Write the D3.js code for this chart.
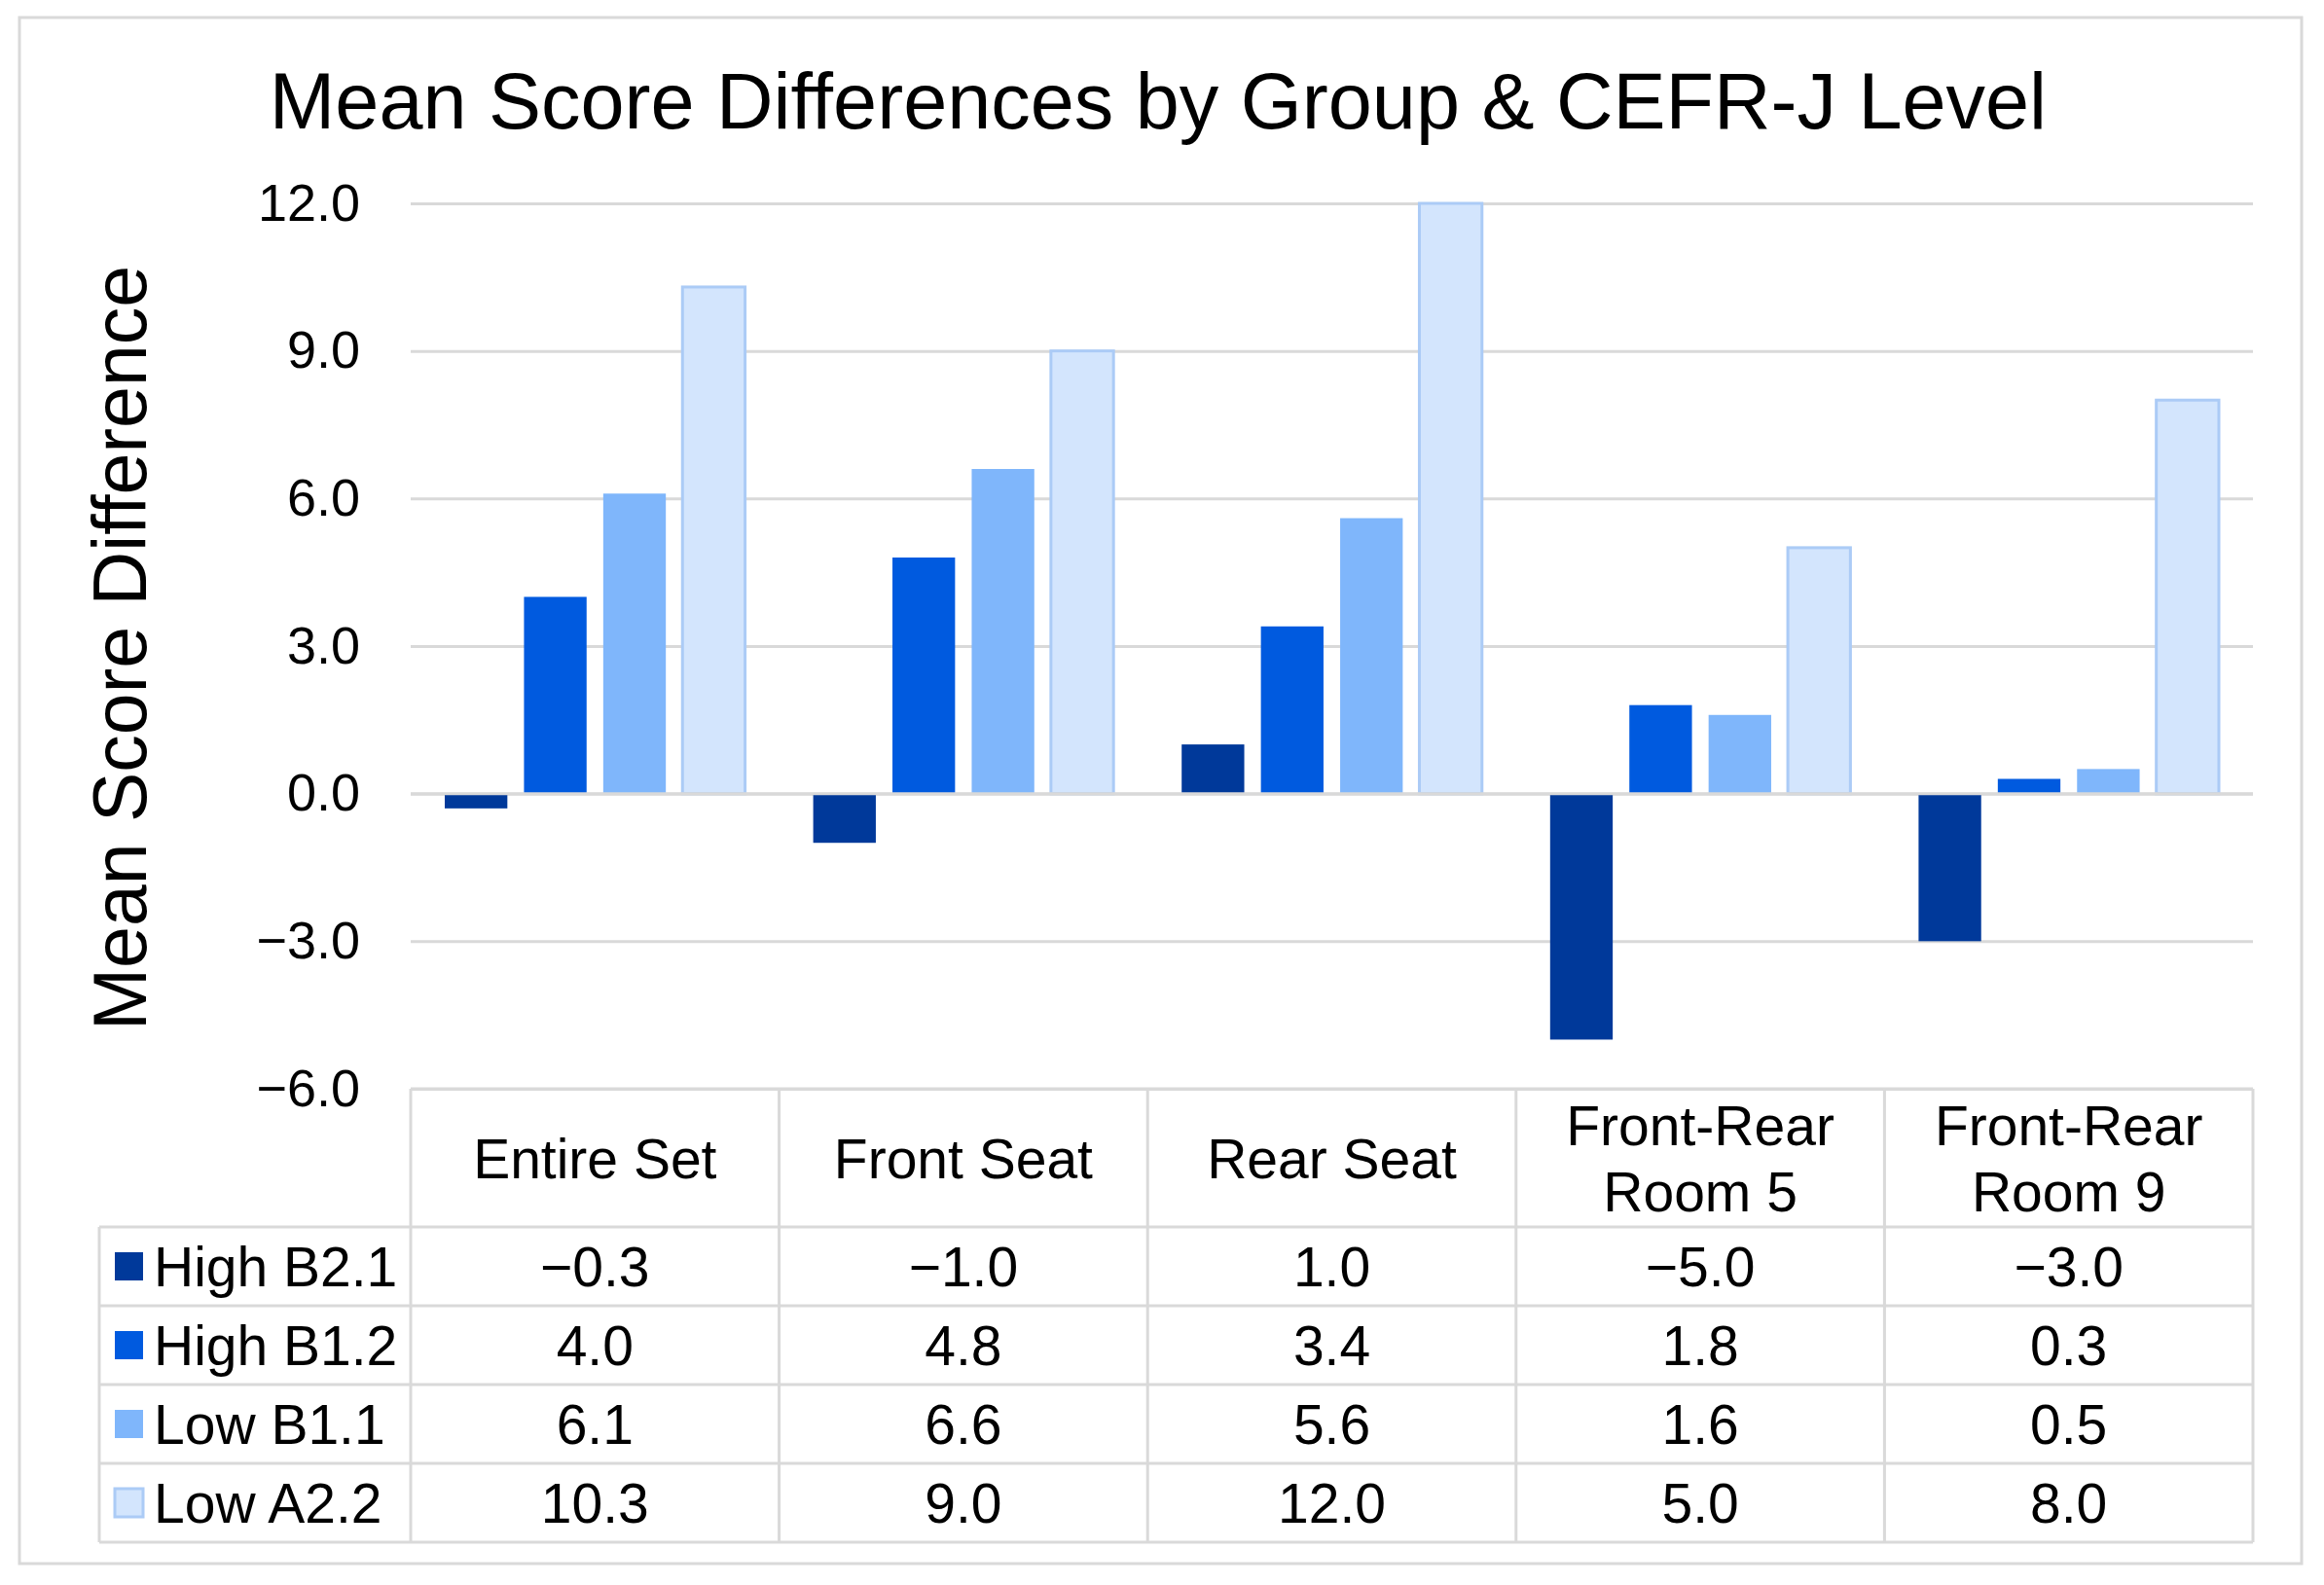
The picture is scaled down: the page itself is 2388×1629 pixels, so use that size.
<!DOCTYPE html>
<html>
<head>
<meta charset="utf-8">
<script src="https://cdn.jsdelivr.net/npm/d3@7"></script>
<style>
  html, body { margin: 0; padding: 0; background: #ffffff; }
  svg { display: block; }
  text { font-family: "Liberation Sans", Arial, Helvetica, sans-serif; fill: #000; }
</style>
</head>
<body>
<svg id="chart" width="2388" height="1629"></svg>
<script>
// ---------------- data ----------------
const categories = ["Entire Set", "Front Seat", "Rear Seat", "Front-Rear Room 5", "Front-Rear Room 9"];
const categoryLines = [["Entire Set"], ["Front Seat"], ["Rear Seat"], ["Front-Rear", "Room 5"], ["Front-Rear", "Room 9"]];
const seriesNames = ["High B2.1", "High B1.2", "Low B1.1", "Low A2.2"];
const highB21 = [-0.3, -1.0, 1.0, -5.0, -3.0];
const highB12 = [4.0, 4.8, 3.4, 1.8, 0.3];
const lowB11 = [6.1, 6.6, 5.6, 1.6, 0.5];
const lowA22 = [10.3, 9.0, 12.0, 5.0, 8.0];
const yTicks = [-6, -3, 0, 3, 6, 9, 12];
const titleText = "Mean Score Differences by Group & CEFR-J Level";
const yTitleText = "Mean Score Difference";

const seriesValues = [highB21, highB12, lowB11, lowA22];
const seriesFill = ["#00399A", "#005ADF", "#7FB6FB", "#D3E5FD"];
const seriesStroke = [null, null, null, "#ABCBF6"];

// ---------------- layout ----------------
const W = 2388, H = 1629;
const plotLeft = 422, plotRight = 2315, plotTop = 209, plotBottom = 1119;
const headerBottom = 1261, rowH = 81, legendLeft = 102;
const gridColor = "#d9d9d9";
const fontBody = 57;

const svg = d3.select("#chart");
svg.append("rect").attr("x", 0).attr("y", 0).attr("width", W).attr("height", H).attr("fill", "#fff");

// outer frame
svg.append("rect")
  .attr("x", 20).attr("y", 18).attr("width", 2345).attr("height", 1589)
  .attr("fill", "none").attr("stroke", gridColor).attr("stroke-width", 3);

// scales
const x0 = d3.scaleBand().domain(categories).range([plotLeft, plotRight]).padding(0);
const x1 = d3.scaleBand().domain(seriesNames).range([0, x0.bandwidth()]).paddingInner(0.21).paddingOuter(0.43);
const y = d3.scaleLinear().domain([-6, 12]).range([plotBottom, plotTop]);

// title
svg.append("text")
  .attr("x", 1190).attr("y", 132)
  .attr("text-anchor", "middle")
  .style("font-size", "81px")
  .text(titleText);

// y axis title
svg.append("text")
  .attr("transform", "translate(150,666) rotate(-90)")
  .attr("text-anchor", "middle")
  .style("font-size", "77px")
  .text(yTitleText);

// y axis with gridlines
const yAxis = d3.axisLeft(y)
  .tickValues(yTicks)
  .tickSize(-(plotRight - plotLeft))
  .tickPadding(52)
  .tickFormat(d3.format(".1f"));

const gAxis = svg.append("g")
  .attr("transform", `translate(${plotLeft},0)`)
  .call(yAxis);
gAxis.select(".domain").remove();
gAxis.selectAll(".tick line").attr("stroke", gridColor).attr("stroke-width", 3);
gAxis.selectAll(".tick text")
  .style("font-size", "54px")
  .style("font-family", "'Liberation Sans', Arial, sans-serif")
  .attr("fill", "#000");

// bars
const rows = seriesNames.map((s, i) => ({ name: s, values: seriesValues[i], fill: seriesFill[i], stroke: seriesStroke[i] }));
const barData = [];
rows.forEach(r => {
  categories.forEach((c, j) => barData.push({ series: r.name, cat: c, value: r.values[j], fill: r.fill, stroke: r.stroke }));
});

svg.append("g").selectAll("rect")
  .data(barData)
  .join("rect")
  .attr("x", d => x0(d.cat) + x1(d.series))
  .attr("width", x1.bandwidth())
  .attr("y", d => y(Math.max(0, d.value)))
  .attr("height", d => Math.abs(y(d.value) - y(0)))
  .attr("fill", d => d.fill)
  .attr("stroke", d => d.stroke || "none")
  .attr("stroke-width", d => d.stroke ? 3 : 0);

// zero line over bars
svg.append("line")
  .attr("x1", plotLeft).attr("x2", plotRight)
  .attr("y1", y(0)).attr("y2", y(0))
  .attr("stroke", gridColor).attr("stroke-width", 3);

// ---------------- data table ----------------
const gT = svg.append("g");
const tableBottom = headerBottom + rowH * seriesNames.length;

// horizontal lines
gT.append("line").attr("x1", plotLeft).attr("x2", plotRight).attr("y1", plotBottom).attr("y2", plotBottom)
  .attr("stroke", gridColor).attr("stroke-width", 3);
for (let i = 0; i <= seriesNames.length; i++) {
  const yy = headerBottom + i * rowH;
  gT.append("line").attr("x1", legendLeft).attr("x2", plotRight).attr("y1", yy).attr("y2", yy)
    .attr("stroke", gridColor).attr("stroke-width", 3);
}
// vertical lines
gT.append("line").attr("x1", legendLeft).attr("x2", legendLeft).attr("y1", headerBottom).attr("y2", tableBottom)
  .attr("stroke", gridColor).attr("stroke-width", 3);
categories.concat(["__end"]).forEach((c, j) => {
  const xx = j < categories.length ? x0(c) : plotRight;
  gT.append("line").attr("x1", xx).attr("x2", xx).attr("y1", plotBottom).attr("y2", tableBottom)
    .attr("stroke", gridColor).attr("stroke-width", 3);
});

// header labels
const headerMid = (plotBottom + headerBottom) / 2;
categories.forEach((c, j) => {
  const lines = categoryLines[j];
  const cx = x0(c) + x0.bandwidth() / 2;
  const lineGap = 68;
  lines.forEach((ln, k) => {
    const off = (k - (lines.length - 1) / 2) * lineGap;
    gT.append("text")
      .attr("x", cx).attr("y", headerMid + off + fontBody * 0.36)
      .attr("text-anchor", "middle")
      .style("font-size", fontBody + "px")
      .text(ln);
  });
});

// rows
const fmt = d3.format(".1f");
rows.forEach((r, i) => {
  const mid = headerBottom + i * rowH + rowH / 2;
  gT.append("rect")
    .attr("x", 118).attr("y", mid - 14.5).attr("width", 29).attr("height", 29)
    .attr("fill", r.fill)
    .attr("stroke", r.stroke || "none").attr("stroke-width", r.stroke ? 3 : 0);
  gT.append("text")
    .attr("x", 158).attr("y", mid + fontBody * 0.36)
    .style("font-size", fontBody + "px")
    .text(r.name);
  categories.forEach((c, j) => {
    gT.append("text")
      .attr("x", x0(c) + x0.bandwidth() / 2).attr("y", mid + fontBody * 0.36)
      .attr("text-anchor", "middle")
      .style("font-size", fontBody + "px")
      .text(fmt(r.values[j]));
  });
});
</script>
</body>
</html>
